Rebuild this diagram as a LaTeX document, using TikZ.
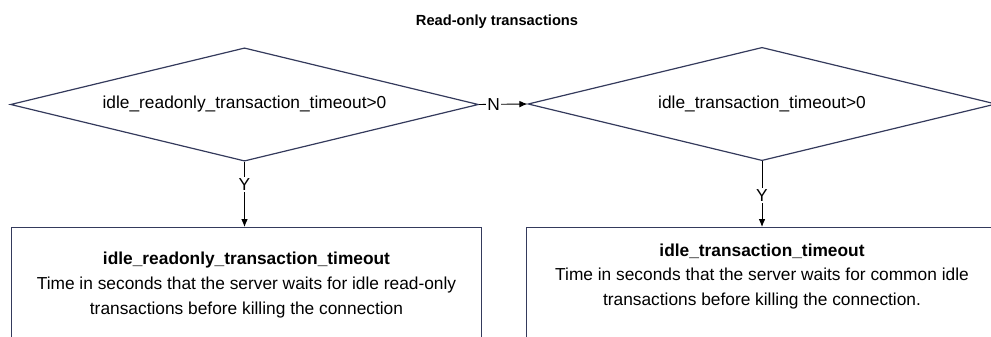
\documentclass[tikz,border=0pt]{standalone}
\usepackage{fontspec}
\setmainfont{Liberation Sans}
\usetikzlibrary{shapes.geometric,arrows.meta}
\definecolor{edgeblue}{RGB}{52,58,92}
\begin{document}
\begin{tikzpicture}[x=0.75pt,y=-0.75pt,
    font=\fontsize{13}{18.4}\selectfont,
    decision/.style={draw=edgeblue,line width=0.9pt,shape=diamond,aspect=4.1,
      minimum width=351pt,minimum height=85pt,inner sep=0pt},
    outbox/.style={draw=edgeblue,line width=0.9pt,minimum width=353pt,minimum height=95pt,inner sep=0pt},
    flow/.style={line width=0.7pt,-{Latex[length=6pt,width=5pt]}},
    lbl/.style={fill=white,inner sep=1pt}]
  % 画布范围
  \useasboundingbox (0,0) rectangle (991,336);
  \clip (0,0) rectangle (991,336);
  % 标题
  \node[font=\fontsize{11}{13}\selectfont\bfseries] (title) at (497,22) {Read-only transactions};
  % 判断框
  \node[decision] (ro) at (244.5,104.5) {idle\_readonly\_transaction\_timeout>0};
  \node[decision] (com) at (762,104) {idle\_transaction\_timeout>0};
  % 结果框
  \node[outbox,anchor=north] (robox) at (246.5,227) {};
  \node[outbox,anchor=north] (combox) at (762,227) {};
  \node[align=center] (rotext) at ([yshift=-43.5pt]robox.north)
    {\textbf{idle\_readonly\_transaction\_timeout}\\Time in seconds that the server waits for idle read-only\\transactions before killing the connection};
  \node[align=center] (comtext) at ([yshift=-36.8pt]combox.north)
    {\textbf{idle\_transaction\_timeout}\\Time in seconds that the server waits for common idle\\transactions before killing the connection.};
  % 连线
  \draw[flow] (ro.east) -- node[lbl,pos=0.3] {N} (com.west);
  \draw[flow] (ro.south) -- node[lbl,pos=0.35] {Y} (robox.north -| ro.south);
  \draw[flow] (com.south) -- node[lbl,pos=0.52] {Y} (combox.north -| com.south);
\end{tikzpicture}
\end{document}
